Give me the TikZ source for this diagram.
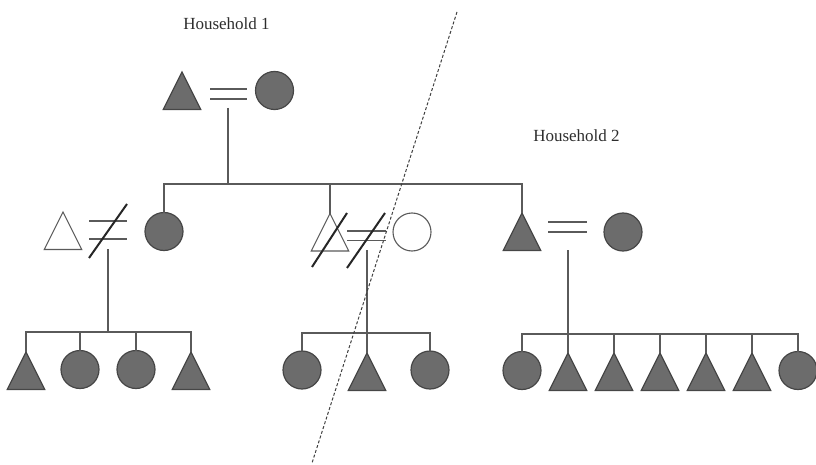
\documentclass[tikz,border=0pt]{standalone}
\usepackage{fontspec}
\setmainfont{Liberation Serif}
\usetikzlibrary{shapes.geometric}
\definecolor{fillg}{RGB}{108,108,108}
\definecolor{edgeg}{RGB}{70,70,70}
\definecolor{lineg}{RGB}{90,90,90}
\definecolor{textg}{RGB}{45,45,45}
\begin{document}
\begin{tikzpicture}[x=1pt,y=-1pt,
  male/.style={isosceles triangle, isosceles triangle stretches, shape border rotate=90,
    minimum width=37.5pt, minimum height=37.5pt, inner sep=0pt, outer sep=0pt,
    draw=edgeg, line width=1.2pt, fill=fillg, anchor=apex},
  female/.style={circle, minimum size=38pt, inner sep=0pt, outer sep=0pt,
    draw=edgeg, line width=1.2pt, fill=fillg},
  openp/.style={fill=white, draw=lineg, line width=1.1pt},
  link/.style={draw=lineg, line width=1.2pt},
  cutmark/.style={draw=black!85, line width=2pt},
  divider/.style={draw=black!75, line width=1pt, dash pattern=on 3pt off 2pt},
  label/.style={font=\fontsize{17}{20}\selectfont, text=textg, anchor=base, inner sep=0pt}]
\useasboundingbox (0,0) rectangle (816,465);

% labels
\node[label] (h1) at (226.5,30) {Household 1};
\node[label] (h2) at (576.5,141.5) {Household 2};

% generation 1
\node[male] (A) at (182,72) {};
\node[female] (B) at (274.5,90.5) {};
\draw[link] (210,89) -- (247,89) (210,99) -- (247,99);
\coordinate (AB) at (228,108);
\coordinate (bar1) at (228,184);

% generation 2
\node[female] (C) at (164,231.5) {};
\node[male,openp] (D) at (330,213.5) {};
\node[male] (E) at (522,213) {};
\draw[link] (AB) -- (bar1);
\draw[link] (C.north) |- (bar1) -| (E.apex);
\draw[link] (D.apex) -- (D.apex |- bar1);

% left couple
\node[male,openp] (F) at (63,212) {};
\draw[link] (89,221) -- (127,221) (89,239) -- (127,239);
\draw[cutmark] (89,258) -- (127,204);
\coordinate (FC) at (108,249);

% middle couple
\node[female,openp] (G) at (412,232) {};
\draw[link] (347,231) -- (386,231) (347,240.5) -- (386,240.5);
\draw[cutmark] (312,267) -- (347,213);
\draw[cutmark] (347,268) -- (385,213);
\coordinate (DG) at (367,250);

% right couple
\node[female] (H) at (623,232) {};
\draw[link] (548,222) -- (587,222) (548,232) -- (587,232);
\coordinate (EH) at (568,250);

% generation 3, left
\node[male] (k1) at (26,352) {};
\node[female] (k2) at (80,369.5) {};
\node[female] (k3) at (136,369.5) {};
\node[male] (k4) at (191,352) {};
\coordinate (b1) at (108,332);
\draw[link] (FC) -- (b1);
\draw[link] (k1.apex) |- (b1) -| (k4.apex);
\draw[link] (k2.north) -- (k2.north |- b1);
\draw[link] (k3.north) -- (k3.north |- b1);

% generation 3, middle
\node[female] (m1) at (302,370) {};
\node[male] (m2) at (367,353) {};
\node[female] (m3) at (430,370) {};
\coordinate (b2) at (367,333);
\draw[link] (DG) -- (m2.apex);
\draw[link] (m1.north) |- (b2) -| (m3.north);

% generation 3, right
\node[female] (r1) at (522,370.5) {};
\node[male] (r2) at (568,353) {};
\node[male] (r3) at (614,353) {};
\node[male] (r4) at (660,353) {};
\node[male] (r5) at (706,353) {};
\node[male] (r6) at (752,353) {};
\node[female] (r7) at (798,370.5) {};
\coordinate (b3) at (568,334);
\draw[link] (EH) -- (r2.apex);
\draw[link] (r1.north) |- (b3) -| (r7.north);
\foreach \k in {r3,r4,r5,r6}{\draw[link] (\k.apex) -- (\k.apex |- b3);}

% household divider
\coordinate (cutT) at (457,12);
\coordinate (cutB) at (312,463);
\draw[divider] (cutT) -- (cutB);
\end{tikzpicture}
\end{document}
